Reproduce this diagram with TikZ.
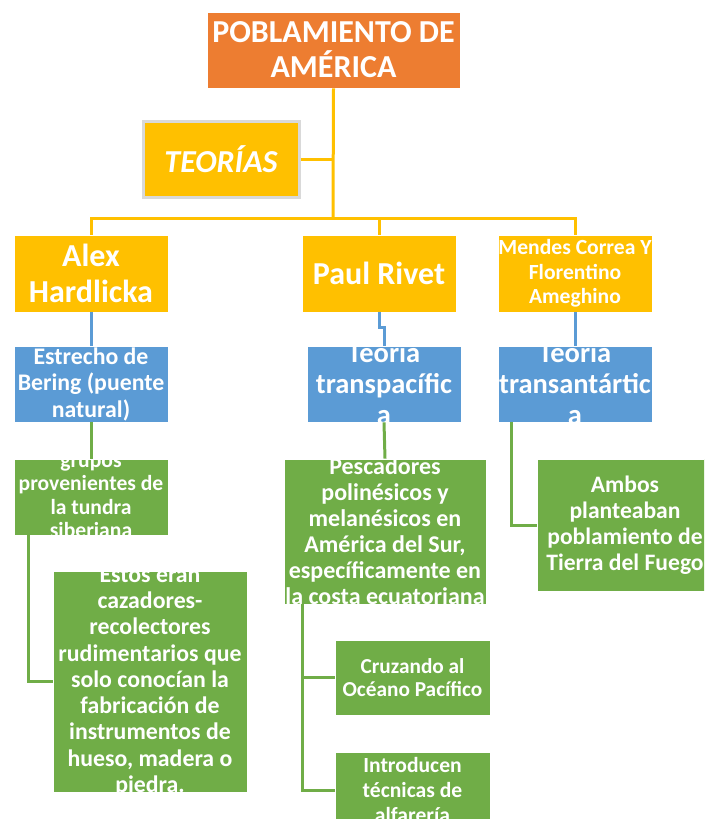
\documentclass[tikz,border=0pt]{standalone}
\usepackage{fontspec}
\setmainfont{Carlito}
\definecolor{orangeshade}{HTML}{ED7D31}
\definecolor{yellowshade}{HTML}{FFC000}
\definecolor{blueshade}{HTML}{5B9BD5}
\definecolor{greenshade}{HTML}{70AD47}
\definecolor{grayrim}{HTML}{D9D9D9}
\newcommand{\fsize}[2]{\bfseries\fontsize{#1}{#2}\selectfont}

\begin{document}
\begin{tikzpicture}[x=1pt, y=-1pt,
  box/.style={rectangle, draw=white, line width=0.8pt, inner sep=0pt, text=white, align=center},
  titlebox/.style={box, fill=orangeshade},
  yellowbox/.style={box, fill=yellowshade},
  bluebox/.style={box, fill=blueshade},
  greenbox/.style={box, fill=greenshade},
  txt/.style={inner sep=0pt, text=white, align=center},
  ylink/.style={draw=yellowshade, line width=3pt},
  blink/.style={draw=blueshade, line width=3pt},
  glink/.style={draw=greenshade, line width=3pt}]

  \useasboundingbox (0,0) rectangle (704,819);
  \clip (0,0) rectangle (704,819);

  % top of the tree
  \node[titlebox, minimum width=253, minimum height=76, font=\fsize{32}{35}]
    (title) at (333.5,50) {POBLAMIENTO DE\\AMÉRICA};
  \node[yellowbox, draw=grayrim, line width=3pt, minimum width=156, minimum height=76,
    font={\fsize{32}{34}\itshape}] (teorias) at (221,159) {TEORÍAS};
  \coordinate (hub) at (333,218);

  % authors
  \node[yellowbox, minimum width=154, minimum height=77, font=\fsize{32}{36}]
    (alex) at (91,273.5) {Alex\\Hardlicka};
  \node[yellowbox, minimum width=154, minimum height=77, font=\fsize{32}{36}]
    (paul) at (379,273.5) {Paul Rivet};
  \node[yellowbox, minimum width=154, minimum height=77, font=\fsize{21.6}{24.5}]
    (mendes) at (575,273.5) {Mendes Correa Y\\Florentino\\Ameghino};

  % theories
  \node[bluebox, minimum width=154, minimum height=76, font=\fsize{23.8}{26.5}]
    (bering) at (91,384) {Estrecho de\\Bering (puente\\natural)};
  \node[bluebox, minimum width=154, minimum height=76] (transpac) at (384,384) {};
  \node[txt, font=\fsize{28.5}{31}] (transpac-t) at (transpac) {Teoría\\transpacífic\\a};
  \node[bluebox, minimum width=154, minimum height=76] (transant) at (575,384) {};
  \node[txt, font=\fsize{28.5}{31}] (transant-t) at (transant) {Teoría\\transantártic\\a};

  % details
  \node[greenbox, minimum width=154, minimum height=76] (grupos) at (91,497) {};
  \node[txt, font=\fsize{21.6}{23.5}] (grupos-t) at (grupos)
    {grupos\\provenientes de\\la tundra\\siberiana};
  \node[greenbox, minimum width=194, minimum height=221] (estos) at (150,681.5) {};
  \node[txt, font=\fsize{23.8}{26.3}] (estos-t) at (estos)
    {Estos eran\\cazadores-\\recolectores\\rudimentarios que\\solo conocían la\\fabricación de\\instrumentos de\\hueso, madera o\\piedra.};
  \node[greenbox, minimum width=202, minimum height=145] (pesca) at (385,531.5) {};
  \node[txt, font=\fsize{24}{26}] (pesca-t) at (pesca)
    {Pescadores\\polinésicos y\\melanésicos en\\América del Sur,\\específicamente en\\la costa ecuatoriana};
  \node[greenbox, minimum width=155, minimum height=75, font=\fsize{21.3}{23}]
    (cruzando) at (412.5,677.5) {Cruzando al\\Océano Pacífico};
  \node[greenbox, minimum width=155, minimum height=76] (introducen) at (412.5,790) {};
  \node[txt, font=\fsize{21.6}{25}] (introducen-t) at (introducen)
    {Introducen\\técnicas de\\alfarería};
  \node[greenbox, minimum width=176, minimum height=132, font=\fsize{23.6}{26}]
    (ambos) at (625,525) {Ambos\\planteaban\\poblamiento de\\Tierra del Fuego};

  % connectors
  \draw[ylink] (title.south) -- (hub);
  \draw[ylink] (teorias.east) -- (teorias.east -| hub);
  \draw[ylink] (hub) -| (alex.north);
  \draw[ylink] (hub) -| (paul.north);
  \draw[ylink] (hub) -| (mendes.north);

  \draw[blink] (alex.south) -- (bering.north);
  \draw[blink] (paul.south) -- ++(0,15) -| (transpac.north);
  \draw[blink] (mendes.south) -- (transant.north);

  \draw[glink] (bering.south) -- (grupos.north);
  \draw[glink] ([xshift=15pt]grupos.south west) |- (estos.west);
  \draw[glink] (transpac.south) -- (pesca.north);
  \draw[glink] ([xshift=19pt]pesca.south west) |- (cruzando.west);
  \draw[glink] ([xshift=19pt]pesca.south west) |- (introducen.west);
  \draw[glink] ([xshift=14pt]transant.south west) |- (ambos.west);
\end{tikzpicture}
\end{document}
